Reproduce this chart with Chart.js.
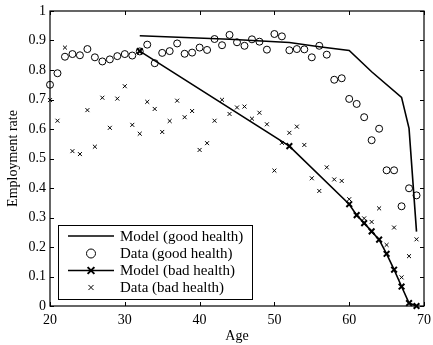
<!DOCTYPE html>
<html>
<head>
<meta charset="utf-8">
<script src="https://cdn.jsdelivr.net/npm/chart.js@4"></script>
<style>
  html, body { margin: 0; padding: 0; background: #fff; }
  #wrap { width: 433px; height: 345px; position: relative; }
</style>
</head>
<body>
<div id="wrap"><canvas id="c" width="433" height="345"></canvas></div>
<script>
// ---- data ----
const dataAges = [20,21,22,23,24,25,26,27,28,29,30,31,32,33,34,35,36,37,38,39,40,41,42,43,44,45,46,47,48,49,50,51,52,53,54,55,56,57,58,59,60,61,62,63,64,65,66,67,68,69];
const dataGood = [0.75,0.789,0.845,0.854,0.850,0.871,0.843,0.829,0.836,0.847,0.854,0.849,0.863,0.886,0.823,0.858,0.864,0.890,0.855,0.859,0.876,0.868,0.905,0.884,0.919,0.894,0.882,0.904,0.896,0.869,0.922,0.914,0.867,0.871,0.870,0.843,0.882,0.852,0.767,0.772,0.702,0.685,0.640,0.562,0.601,0.460,0.460,0.338,0.399,0.375];
const dataBad = [0.698,0.628,0.876,0.525,0.515,0.664,0.540,0.706,0.604,0.703,0.745,0.614,0.584,0.692,0.668,0.590,0.627,0.696,0.640,0.661,0.529,0.552,0.628,0.699,0.651,0.673,0.676,0.635,0.655,0.616,0.459,0.553,0.587,0.608,0.546,0.433,0.390,0.470,0.429,0.424,0.362,0.31,0.297,0.285,0.331,0.207,0.266,0.097,0.169,0.226];
const modelGoodAges = [32,44,52,56,60,63,67,68,69];
const modelGood = [0.916,0.904,0.893,0.879,0.866,0.794,0.707,0.602,0.252];
const modelBadAges = [32,52,60,61,62,63,64,65,66,67,68,69];
const modelBad = [0.864,0.542,0.345,0.308,0.281,0.253,0.225,0.177,0.123,0.066,0.01,0.0];
const xTicks = [20,30,40,50,60,70];
const yTicks = [0,0.1,0.2,0.3,0.4,0.5,0.6,0.7,0.8,0.9,1];
const labels = ['Model (good health)','Data (good health)','Model (bad health)','Data (bad health)'];

const pts = (xs, ys) => xs.map((x, i) => ({x: x, y: ys[i]}));
const FONT = "'Liberation Serif', 'Times New Roman', serif";

const frameAndLegend = {
  id: 'frameAndLegend',
  afterDraw(chart) {
    const ctx = chart.ctx, a = chart.chartArea;
    const xs = chart.scales.x, ys = chart.scales.y;
    ctx.save();
    ctx.strokeStyle = '#000';
    ctx.lineWidth = 1.2;
    ctx.strokeRect(a.left, a.top, a.right - a.left, a.bottom - a.top);
    ctx.lineWidth = 1;
    const tl = 4;
    ctx.beginPath();
    xTicks.forEach(v => {
      const p = Math.round(xs.getPixelForValue(v)) + 0.5;
      ctx.moveTo(p, a.bottom); ctx.lineTo(p, a.bottom - tl);
      ctx.moveTo(p, a.top); ctx.lineTo(p, a.top + tl);
    });
    yTicks.forEach(v => {
      const p = Math.round(ys.getPixelForValue(v)) + 0.5;
      ctx.moveTo(a.left, p); ctx.lineTo(a.left + tl, p);
      ctx.moveTo(a.right, p); ctx.lineTo(a.right - tl, p);
    });
    ctx.stroke();

    // legend
    const bx = 58, by = 225, bw = 194, bh = 74;
    ctx.fillStyle = '#fff';
    ctx.fillRect(bx, by, bw, bh);
    ctx.lineWidth = 1;
    ctx.strokeRect(bx + 0.5, by + 0.5, bw, bh);
    const rows = [236, 253.5, 270.5, 287.5];
    const lx1 = 68, lx2 = 114, mx = 91;
    ctx.font = '15px ' + FONT;
    ctx.textBaseline = 'middle';
    ctx.textAlign = 'left';
    chart.data.datasets.forEach((ds, i) => {
      const y = rows[i];
      ctx.strokeStyle = '#000';
      if (ds.showLine) {
        ctx.lineWidth = ds.borderWidth;
        ctx.beginPath(); ctx.moveTo(lx1, y); ctx.lineTo(lx2, y); ctx.stroke();
      }
      if (ds.pointRadius > 0) {
        ctx.fillStyle = 'rgba(0,0,0,0)';
        ctx.lineWidth = ds.pointBorderWidth;
        Chart.helpers.drawPoint(ctx, {
          pointStyle: ds.pointStyle, radius: ds.pointRadius + (ds.pointStyle === 'circle' ? 1 : 0.8), rotation: 0,
          borderWidth: ds.pointBorderWidth
        }, mx, y);
      }
      ctx.fillStyle = '#000';
      ctx.fillText(ds.label, 120, y + 1);
    });
    ctx.restore();
  }
};

new Chart(document.getElementById('c'), {
  type: 'scatter',
  data: {
    datasets: [
      { label: labels[0], data: pts(modelGoodAges, modelGood), showLine: true, borderColor: '#000', borderWidth: 1.6,
        pointRadius: 0, pointStyle: 'line', pointBorderWidth: 0, clip: false },
      { label: labels[1], data: pts(dataAges, dataGood), showLine: false, borderColor: '#000', backgroundColor: 'rgba(0,0,0,0)',
        pointStyle: 'circle', pointRadius: 3.5, pointBorderWidth: 1, pointBorderColor: '#000', pointBackgroundColor: 'rgba(0,0,0,0)', clip: false },
      { label: labels[2], data: pts(modelBadAges, modelBad), showLine: true, borderColor: '#000', borderWidth: 1.6,
        pointStyle: 'crossRot', pointRadius: 4, pointBorderWidth: 2, pointBorderColor: '#000', clip: false },
      { label: labels[3], data: pts(dataAges, dataBad), showLine: false, borderColor: '#000',
        pointStyle: 'crossRot', pointRadius: 2.8, pointBorderWidth: 1, pointBorderColor: '#000', clip: false }
    ]
  },
  options: {
    responsive: false,
    animation: false,
    devicePixelRatio: 1,
    layout: { padding: { top: 11, right: 9, left: 0, bottom: 0 } },
    plugins: { legend: { display: false }, tooltip: { enabled: false } },
    elements: { line: { tension: 0 } },
    scales: {
      x: {
        type: 'linear', min: 20, max: 70,
        afterBuildTicks: s => { s.ticks = xTicks.map(v => ({value: v})); },
        afterFit: s => { s.height = 39; s.paddingLeft = 0; s.paddingRight = 0; },
        grid: { display: false, drawTicks: false },
        border: { display: false },
        ticks: { color: '#000', font: { family: FONT, size: 14 }, padding: 6, maxRotation: 0 },
        title: { display: true, text: 'Age', color: '#000', font: { family: FONT, size: 14 }, padding: { top: 0, bottom: 0 } }
      },
      y: {
        type: 'linear', min: 0, max: 1,
        afterBuildTicks: s => { s.ticks = yTicks.map(v => ({value: v})); },
        afterFit: s => { s.width = 50; s.paddingTop = 0; s.paddingBottom = 0; },
        grid: { display: false, drawTicks: false },
        border: { display: false },
        ticks: { color: '#000', font: { family: FONT, size: 14 }, padding: 4, callback: v => String(+v.toFixed(1)) },
        title: { display: true, text: 'Employment rate', color: '#000', font: { family: FONT, size: 14 }, padding: { top: 5, bottom: 2 } }
      }
    }
  },
  plugins: [frameAndLegend]
});
</script>
</body>
</html>
